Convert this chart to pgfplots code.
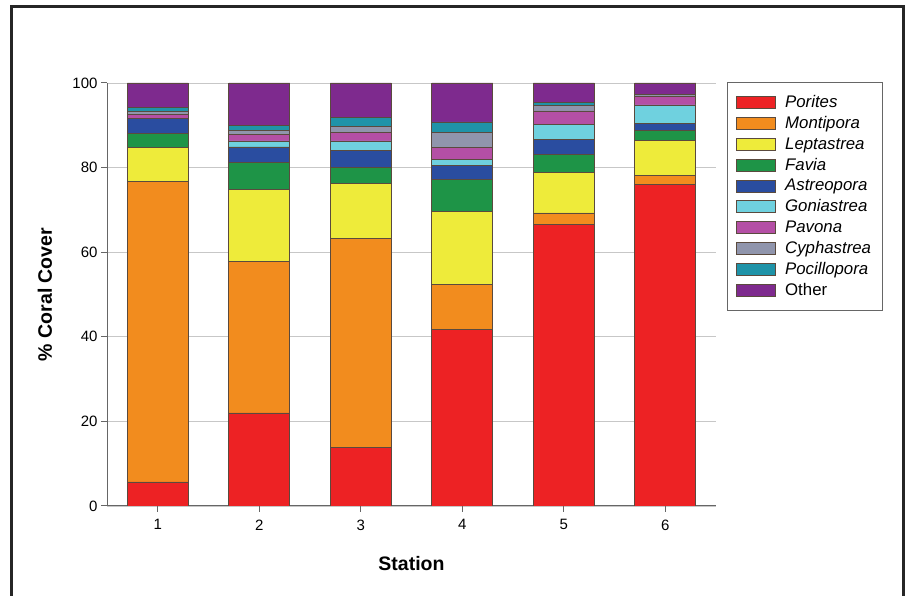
\documentclass[border=0pt]{standalone}
\usepackage{pgfplots}
\pgfplotsset{compat=1.18}
\usepackage{fontspec}
\setmainfont{Liberation Sans}
\definecolor{cPor}{HTML}{ED2224}
\definecolor{cMon}{HTML}{F28C1E}
\definecolor{cLep}{HTML}{EEEB3A}
\definecolor{cFav}{HTML}{1E9447}
\definecolor{cAst}{HTML}{2A4DA0}
\definecolor{cGon}{HTML}{6FD1DF}
\definecolor{cPav}{HTML}{B44FA5}
\definecolor{cCyp}{HTML}{9095AC}
\definecolor{cPoc}{HTML}{1F93A8}
\definecolor{cOth}{HTML}{7E2A8E}
\definecolor{edge}{HTML}{5A4A3E}
\begin{document}
\begin{tikzpicture}
\useasboundingbox (0,0) rectangle (905pt,596pt);
\draw[line width=3pt, black!85] (11.5pt,0) -- (11.5pt,589.5pt) -- (903.5pt,589.5pt) -- (903.5pt,0);
\begin{axis}[
  at={(107pt,90pt)}, anchor=south west,
  scale only axis, width=609pt, height=423pt,
  ybar stacked, bar width=61pt,
  xmin=0.5, xmax=6.5, ymin=0, ymax=100,
  xtick={1,2,3,4,5,6},
  ytick={0,20,40,60,80,100},
  axis x line*=bottom, axis y line*=left,
  axis line style={draw=black!60, line width=1pt},
  tick style={draw=black!60, line width=1pt},
  tick align=outside, major tick length=6pt,
  ymajorgrids, grid style={draw=black!22, line width=0.8pt},
  /pgf/number format/assume math mode=true,
  ticklabel style={font=\fontsize{15}{17}\selectfont},
  xticklabel style={yshift=-4pt},
  xlabel={\bfseries Station},
  ylabel={\bfseries \% Coral Cover},
  label style={font=\fontsize{19.5}{21}\selectfont},
  xlabel style={at={(axis description cs:0.5,-0.135)}, anchor=center},
  ylabel style={at={(axis description cs:-0.102,0.5)}, anchor=center, rotate=0},
  every axis plot/.append style={draw=edge, line width=0.7pt},
  legend style={at={(axis description cs:1.018,1.002)}, anchor=north west,
    draw=black!60, line width=1pt, font=\fontsize{16.8}{19}\selectfont,
    row sep=3.4pt, inner xsep=9pt, inner ysep=11pt, cells={anchor=west}},
  legend image code/.code={\draw[#1, line width=0.7pt] (0pt,-6pt) rectangle (39pt,6pt); \path (46pt,0pt);},
]
\addplot[fill=cPor] coordinates {(1,5.7) (2,22.0) (3,13.9) (4,41.8) (5,66.5) (6,76.0)};
\addplot[fill=cMon] coordinates {(1,71.1) (2,35.8) (3,49.4) (4,10.6) (5,2.8) (6,2.1)};
\addplot[fill=cLep] coordinates {(1,7.9) (2,17.0) (3,12.9) (4,17.2) (5,9.6) (6,8.4)};
\addplot[fill=cFav] coordinates {(1,3.4) (2,6.4) (3,3.9) (4,7.6) (5,4.2) (6,2.3)};
\addplot[fill=cAst] coordinates {(1,3.5) (2,3.7) (3,4.0) (4,3.4) (5,3.6) (6,1.7)};
\addplot[fill=cGon] coordinates {(1,0) (2,1.4) (3,2.2) (4,1.3) (5,3.6) (6,4.3)};
\addplot[fill=cPav] coordinates {(1,1.0) (2,1.5) (3,2.0) (4,2.8) (5,3.1) (6,2.1)};
\addplot[fill=cCyp] coordinates {(1,0.6) (2,1.0) (3,1.4) (4,3.7) (5,1.2) (6,0.3)};
\addplot[fill=cPoc] coordinates {(1,1.0) (2,1.2) (3,2.1) (4,2.4) (5,0.8) (6,0)};
\addplot[fill=cOth] coordinates {(1,5.8) (2,10.0) (3,8.2) (4,9.2) (5,4.6) (6,2.8)};
\legend{\itshape Porites, \itshape Montipora, \itshape Leptastrea, \itshape Favia, \itshape Astreopora, \itshape Goniastrea, \itshape Pavona, \itshape Cyphastrea, \itshape Pocillopora, Other}
\end{axis}
\end{tikzpicture}
\end{document}
